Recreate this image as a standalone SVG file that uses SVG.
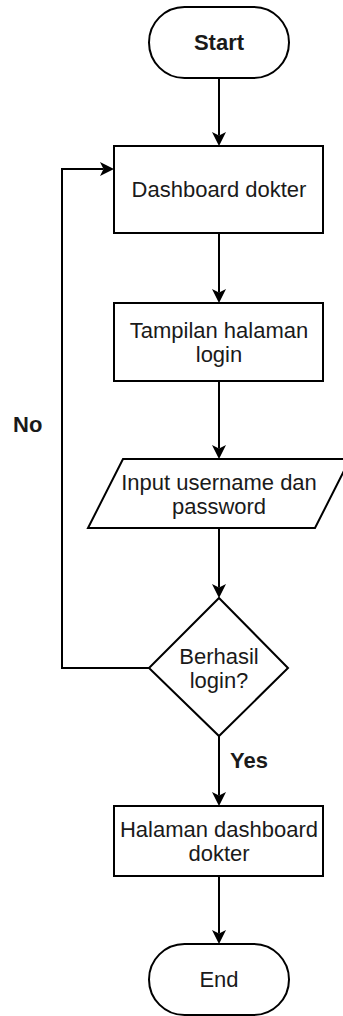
<svg xmlns="http://www.w3.org/2000/svg" width="343" height="1016" viewBox="0 0 343 1016">
<style>
.s{fill:#fff;stroke:#000;stroke-width:2}
.t{font-family:"Liberation Sans",Arial,sans-serif;font-size:22px;fill:#1a1a1a;text-anchor:middle}
.b{font-weight:bold}
.c{fill:none;stroke:#000;stroke-width:2}
</style>
<defs>
<marker id="arr" markerUnits="userSpaceOnUse" markerWidth="16" markerHeight="16" viewBox="0 0 16 16" refX="3.5" refY="7" orient="auto">
<path d="M0,0 L14,7 L0,14 L3.5,7 Z" fill="#000"/>
</marker>
</defs>
<rect width="343" height="1016" fill="#fff"/>
<g id="connectors">
<path class="c" d="M219,78 V135.5" marker-end="url(#arr)"/>
<path class="c" d="M219,233 V292.5" marker-end="url(#arr)"/>
<path class="c" d="M219,381 V448.5" marker-end="url(#arr)"/>
<path class="c" d="M219,528 V587.5" marker-end="url(#arr)"/>
<path class="c" d="M149,668 H62 V169 H103.5" marker-end="url(#arr)"/>
<path class="c" d="M219,736 V795.5" marker-end="url(#arr)"/>
<path class="c" d="M219,876 V933.5" marker-end="url(#arr)"/>
<text class="t b" x="13" y="432" style="text-anchor:start">No</text>
<text class="t b" x="230" y="768" style="text-anchor:start">Yes</text>
</g>
<g id="start">
<rect class="s" x="149" y="7" width="140" height="71" rx="35.5" ry="35.5"/>
<text class="t b" x="219" y="50">Start</text>
</g>
<g id="dashboard">
<rect class="s" x="114" y="146" width="209" height="87"/>
<text class="t" x="219" y="197">Dashboard dokter</text>
</g>
<g id="login-page">
<rect class="s" x="114" y="303" width="209" height="78"/>
<text class="t" x="219" y="338">Tampilan halaman</text>
<text class="t" x="219" y="362">login</text>
</g>
<g id="input">
<polygon class="s" points="123,459 350,459 315,528 88,528"/>
<text class="t" x="219" y="490">Input username dan</text>
<text class="t" x="219" y="514">password</text>
</g>
<g id="decision">
<polygon class="s" points="219,598 288,668 219,736 149,668"/>
<text class="t" x="219" y="664">Berhasil</text>
<text class="t" x="219" y="688">login?</text>
</g>
<g id="halaman">
<rect class="s" x="114" y="806" width="209" height="70"/>
<text class="t" x="219" y="837">Halaman dashboard</text>
<text class="t" x="219" y="861">dokter</text>
</g>
<g id="end">
<rect class="s" x="149" y="944" width="140" height="71" rx="35.5" ry="35.5"/>
<text class="t" x="219" y="987">End</text>
</g>
</svg>
